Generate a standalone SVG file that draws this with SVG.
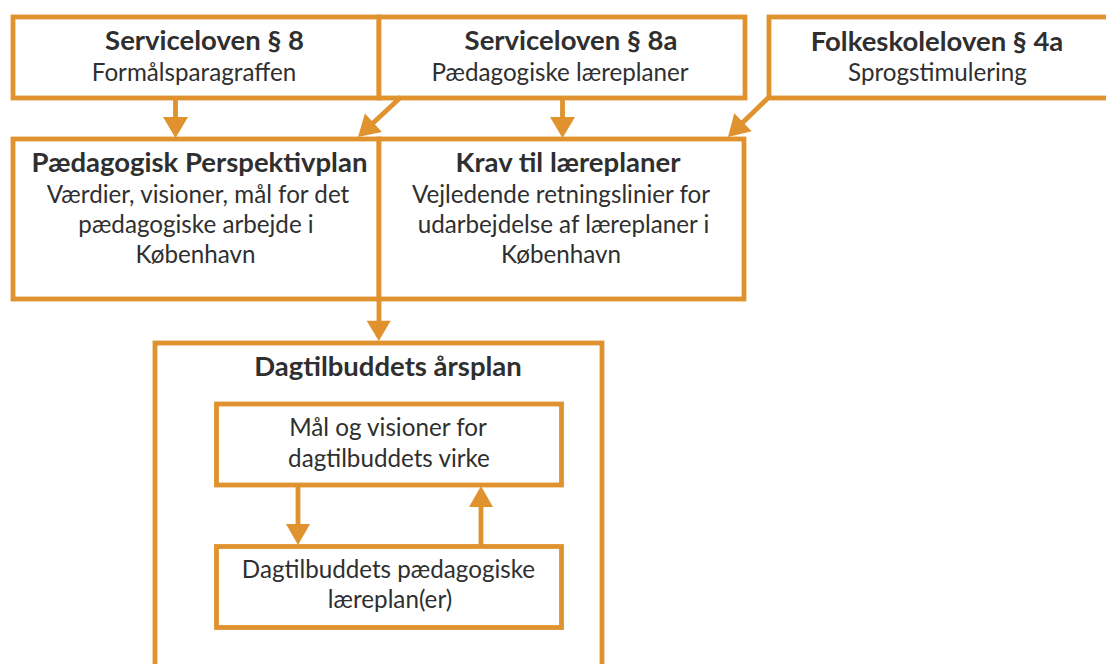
<svg xmlns="http://www.w3.org/2000/svg" width="1106" height="664" viewBox="0 0 1106 664">
<style>
.box{fill:#ffffff;stroke:#DF922E;stroke-width:4.8}
.ln{stroke:#DF922E;stroke-width:4.8;fill:none}
.hd{fill:#DF922E;stroke:none}
text{font-family:Lato,"Open Sans","Liberation Sans",sans-serif;fill:#2f2f2f;text-anchor:middle}
.t{font-weight:bold;font-size:27.5px}
.b{font-size:24.2px}
</style>
<rect x="0" y="0" width="1106" height="664" fill="#ffffff"/>
<g id="n-serviceloven8">
<rect class="box" x="13" y="17" width="366" height="81"/>
<text class="t" x="204.5" y="50">Serviceloven § 8</text>
<text class="b" x="194" y="81">Formålsparagraffen</text>
</g>
<g id="n-serviceloven8a">
<rect class="box" x="379" y="17" width="366" height="81"/>
<text class="t" x="571" y="50">Serviceloven § 8a</text>
<text class="b" x="560" y="81">Pædagogiske læreplaner</text>
</g>
<g id="n-folkeskoleloven">
<rect class="box" x="769" y="17" width="360" height="81"/>
<text class="t" x="937" y="50.5">Folkeskoleloven § 4a</text>
<text class="b" x="937.5" y="81">Sprogstimulering</text>
</g>
<g id="n-perspektivplan">
<rect class="box" x="13" y="139" width="366" height="160"/>
<text class="t" x="199.5" y="171.7">Pædagogisk Perspektivplan</text>
<text class="b" x="198" y="202.7">Værdier, visioner, mål for det</text>
<text class="b" x="196" y="232.7">pædagogiske arbejde i</text>
<text class="b" x="195.5" y="263.3">København</text>
</g>
<g id="n-krav">
<rect class="box" x="379" y="139" width="365" height="160"/>
<text class="t" x="568" y="171.7">Krav til læreplaner</text>
<text class="b" x="561" y="202.7">Vejledende retningslinier for</text>
<text class="b" x="563.5" y="232.7">udarbejdelse af læreplaner i</text>
<text class="b" x="561" y="263.3">København</text>
</g>
<g id="n-aarsplan">
<rect class="box" x="155" y="343" width="447" height="360"/>
<text class="t" x="388" y="376">Dagtilbuddets årsplan</text>
</g>
<g id="n-maal">
<rect class="box" x="216.5" y="404" width="345" height="81"/>
<text class="b" x="388" y="436">Mål og visioner for</text>
<text class="b" x="389" y="466.7">dagtilbuddets virke</text>
</g>
<g id="n-laereplaner">
<rect class="box" x="216.5" y="546.5" width="345" height="81"/>
<text class="b" x="388.5" y="578.3">Dagtilbuddets pædagogiske</text>
<text class="b" x="390" y="608.3">læreplan(er)</text>
</g>
<g id="connectors">
<line class="ln" x1="175.5" y1="98" x2="175.5" y2="118"/>
<polygon class="hd" points="163,117 188,117 175.5,138"/>
<line class="ln" x1="562.5" y1="98" x2="562.5" y2="118"/>
<polygon class="hd" points="550,117 575,117 562.5,138"/>
<line class="ln" x1="401" y1="97" x2="372" y2="124"/>
<polygon class="hd" points="381.9,131.9 364.9,113.5 358,137"/>
<line class="ln" x1="769" y1="97" x2="742" y2="123.3"/>
<polygon class="hd" points="751.7,131.3 734.3,113.3 728,137"/>
<line class="ln" x1="379" y1="299" x2="379" y2="322"/>
<polygon class="hd" points="366.7,320.7 390.7,320.7 378.8,341"/>
<line class="ln" x1="298" y1="486" x2="298" y2="525"/>
<polygon class="hd" points="286,524 310,524 298,545"/>
<line class="ln" x1="481" y1="546" x2="481" y2="506"/>
<polygon class="hd" points="469,507 493,507 481,486"/>
</g>
</svg>
